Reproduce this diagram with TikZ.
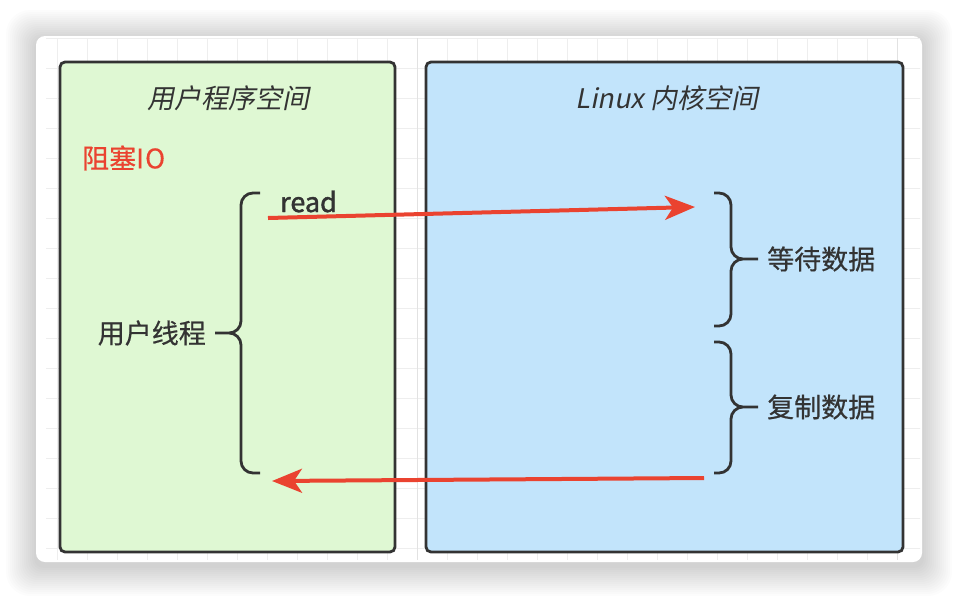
\documentclass[tikz,border=0pt]{standalone}
\usepackage{fontspec}
\setmainfont{Noto Sans CJK SC}[FakeBold=0.5]
\newfontfamily\slantcjk{Noto Sans CJK SC}[FakeSlant=0.2]
\newfontfamily\heavycjk{Noto Sans CJK SC}[FakeBold=1.6]
\usetikzlibrary{arrows.meta,positioning}
\definecolor{usergreen}{HTML}{DFF8D3}
\definecolor{kernelblue}{HTML}{C2E4FB}
\definecolor{edgegray}{HTML}{333333}
\definecolor{ioRed}{HTML}{EA4330}
\definecolor{gridgray}{HTML}{EEEEEE}
\definecolor{majorgray}{HTML}{E2E2E2}
\tikzset{
  space/.style={draw=edgegray, line width=2.8pt, rounded corners=5pt},
  spacetitle/.style={font=\slantcjk\fontsize{27}{32}\selectfont, text=edgegray},
  braceword/.style={font=\fontsize{27}{32}\selectfont, text=edgegray, inner sep=0pt},
  bracket/.style={draw=edgegray, line width=2.8pt, rounded corners=12pt},
  redarrow/.style={-{Stealth[length=30pt, width=24pt, inset=8pt]}, line width=4pt, ioRed}
}

\begin{document}
\begin{tikzpicture}[x=1pt, y=-1pt]
  \useasboundingbox (0,0) rectangle (958,598);
  % card with soft shadow
  \foreach \s in {1,...,15}
    \fill[black, opacity=0.010, rounded corners=9pt+\s pt] (36-2*\s,40-2*\s) rectangle (922+2*\s,566+2*\s);
  \fill[white, rounded corners=9pt] (36,36) rectangle (922,562);
  \begin{scope}
    \clip (46,38) rectangle (920,559);
    \foreach \x in {57,87,...,917}
      \draw[gridgray, line width=1pt] (\x,36) -- (\x,562);
    \foreach \y in {38,68,...,560}
      \draw[gridgray, line width=1pt] (36,\y) -- (922,\y);
    \draw[majorgray, line width=1pt] (417,36) -- (417,562);
    \draw[majorgray, line width=1pt] (897,36) -- (897,562);
  \end{scope}

  % the two spaces
  \node[space, fill=usergreen, minimum width=335pt, minimum height=490pt] (user) at (227.5,307) {};
  \node[space, fill=kernelblue, minimum width=477pt, minimum height=490pt] (kernel) at (664.5,307) {};
  \node[spacetitle] (usertitle) at (228,98) {用户程序空间};
  \node[spacetitle] (kerneltitle) at (667,98) {Linux 内核空间};
  \node[anchor=west, inner sep=0pt, text=ioRed, font=\fontsize{27}{32}\selectfont] (blockio) at (82,158) {阻塞I\kern1pt O};

  % user thread
  \draw[bracket] (260,193) -| (241,333) -- (215,333) (215,333) -- (241,333) |- (260,473);
  \node[braceword, anchor=east] (thread) at (206,333) {用户线程};
  \node[anchor=base west, inner sep=0pt, text=edgegray, font=\heavycjk\fontsize{27}{32}\selectfont] (readword) at (280,212) {read};

  % kernel phases
  \draw[bracket] (714,193) -| (731,259) -- (758,259) (758,259) -- (731,259) |- (714,326);
  \draw[bracket] (714,342) -| (731,407) -- (758,407) (758,407) -- (731,407) |- (714,473);
  \node[braceword, anchor=west] (waitdata) at (767,259) {等待数据};
  \node[braceword, anchor=west] (copydata) at (767,407) {复制数据};

  \coordinate (readfrom) at (268,218);
  \coordinate (readto) at (695,207);
  \coordinate (backfrom) at (704,478);
  \coordinate (backto) at (272,481);
  \draw[redarrow] (readfrom) -- (readto);
  \draw[redarrow] (backfrom) -- (backto);
\end{tikzpicture}
\end{document}
